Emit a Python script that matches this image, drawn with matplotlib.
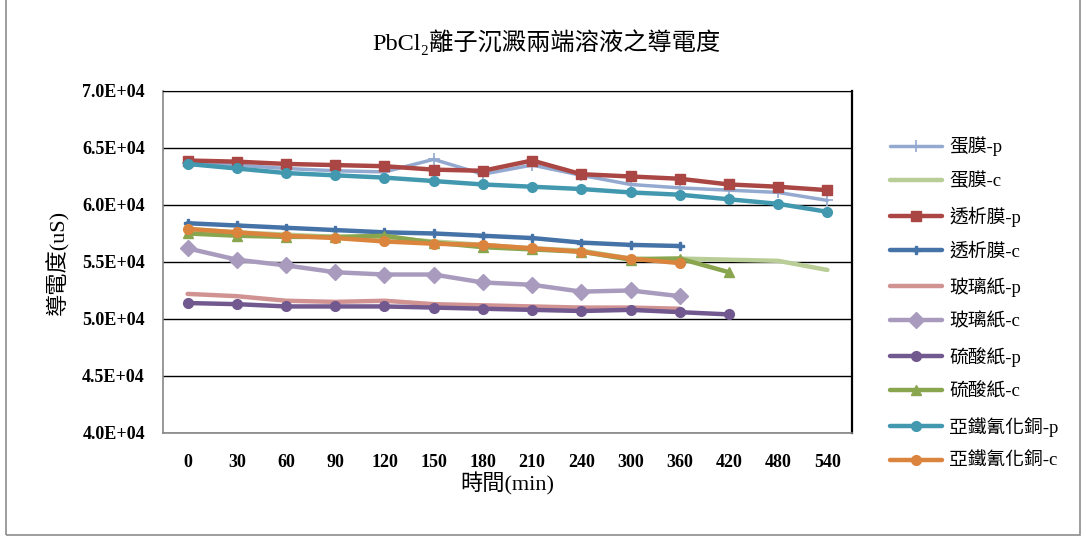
import numpy as np
import matplotlib
matplotlib.use("Agg")
import matplotlib.pyplot as plt
from matplotlib.patches import Rectangle

plt.rcParams['font.family'] = ['Liberation Serif', 'DejaVu Serif', 'Noto Sans CJK TC']

nan = np.nan
times = ['0', '30', '60', '90', '120', '150', '180', '210', '240', '300', '360', '420', '480', '540']

# 導電度 (uS), 每個樣品兩端 (p / c)
egg_p = [63700, 63500, 63200, 63000, 62900, 64000, 62700, 63500, 62600, 61800, 61500, 61300, 61100, 60400]
egg_c = [57900, 57600, 57400, 57200, 57100, 56800, 56500, 56200, 56000, 55300, 55300, 55200, 55100, 54300]
dialysis_p = [63900, 63800, 63600, 63500, 63400, 63100, 63000, 63900, 62700, 62500, 62300, 61800, 61600, 61300]
dialysis_c = [58400, 58200, 58000, 57800, 57600, 57500, 57300, 57100, 56700, 56500, 56400, nan, nan, nan]
cello_p = [52200, 52000, 51600, 51500, 51600, 51300, 51200, 51100, 51000, 51000, 50900, nan, nan, nan]
cello_c = [56200, 55200, 54700, 54100, 53900, 53900, 53200, 53000, 52400, 52500, 52000, nan, nan, nan]
sulfate_p = [51400, 51300, 51100, 51100, 51100, 51000, 50900, 50800, 50700, 50800, 50600, 50400, nan, nan]
sulfate_c = [57500, 57300, 57200, 57200, 57300, 56700, 56300, 56100, 55900, 55200, 55300, 54100, nan, nan]
cufe_p = [63600, 63200, 62800, 62600, 62400, 62100, 61800, 61600, 61400, 61100, 60900, 60500, 60100, 59400]
cufe_c = [57900, 57600, 57300, 57100, 56800, 56600, 56500, 56200, 55900, 55300, 54900, nan, nan, nan]

series = [
    ('蛋膜-p', egg_p, '#93A9CF', '+', 9, 1.2, 2.5),
    ('蛋膜-c', egg_c, '#B9CD96', 'None', 0, 0, 3.2),
    ('透析膜-p', dialysis_p, '#AA4643', 's', 7.5, 1, 3.2),
    ('透析膜-c', dialysis_c, '#4572A7', 'P', 6, 1, 3.2),
    ('玻璃紙-p', cello_p, '#D19392', 'None', 0, 0, 3.2),
    ('玻璃紙-c', cello_c, '#A99BBD', 'D', 8.5, 1, 3.2),
    ('硫酸紙-p', sulfate_p, '#71588F', 'o', 7, 1, 3.2),
    ('硫酸紙-c', sulfate_c, '#89A54E', '^', 7, 1, 3.2),
    ('亞鐵氰化銅-p', cufe_p, '#4198AF', 'o', 7, 1, 3.2),
    ('亞鐵氰化銅-c', cufe_c, '#DB843D', 'o', 7, 1, 3.2),
]

fig = plt.figure(figsize=(10.86, 5.38), dpi=100)
ax = fig.add_axes([0.1501, 0.1952, 0.6344, 0.6357])

x = np.arange(len(times))
for label, vals, color, marker, ms, mew, lw in series:
    ax.plot(x, vals, color=color, marker=marker, markersize=ms, markeredgewidth=mew,
            markeredgecolor=color, linewidth=lw, label=label, solid_capstyle='round')

ax.set_xlim(-0.5, len(times) - 0.5)
ax.set_ylim(40000, 70000)
yticks = np.arange(40000, 70001, 5000)
ax.set_yticks(yticks)
ax.set_yticklabels([f'{v / 1e4:.1f}E+04' for v in yticks], fontsize=13, fontweight='bold')
ax.set_xticks(x)
ax.set_xticklabels(times, fontsize=13, fontweight='bold')
ax.tick_params(axis='both', length=0)
ax.tick_params(axis='y', pad=13)
ax.tick_params(axis='x', pad=15)

ax.yaxis.grid(True, color='black', linewidth=1.0)
ax.set_axisbelow(True)
for side in ['left', 'bottom']:
    ax.spines[side].set_color('#868686')
    ax.spines[side].set_linewidth(1.2)
ax.spines['top'].set_color('black')
ax.spines['right'].set_color('black')
ax.spines['right'].set_linewidth(1.6)

ax.set_ylabel('導電度(uS)', fontsize=16, labelpad=9)
ax.set_xlabel('時間(min)', fontsize=16, labelpad=1)
fig.suptitle('PbCl₂離子沉澱兩端溶液之導電度', x=0.503, y=0.945, fontsize=17.5)

fig.legend(loc='upper left', bbox_to_anchor=(0.8195, 0.746), frameon=False, fontsize=13.5,
           handlelength=2.8, handletextpad=0.35, labelspacing=0.87, borderpad=0, borderaxespad=0)

fig.patches.append(Rectangle((0.0055, 0.0056), 0.989, 1.2, transform=fig.transFigure,
                             fill=False, edgecolor='#8c8c8c', linewidth=1.2))

fig.savefig('out.png', dpi=100)
